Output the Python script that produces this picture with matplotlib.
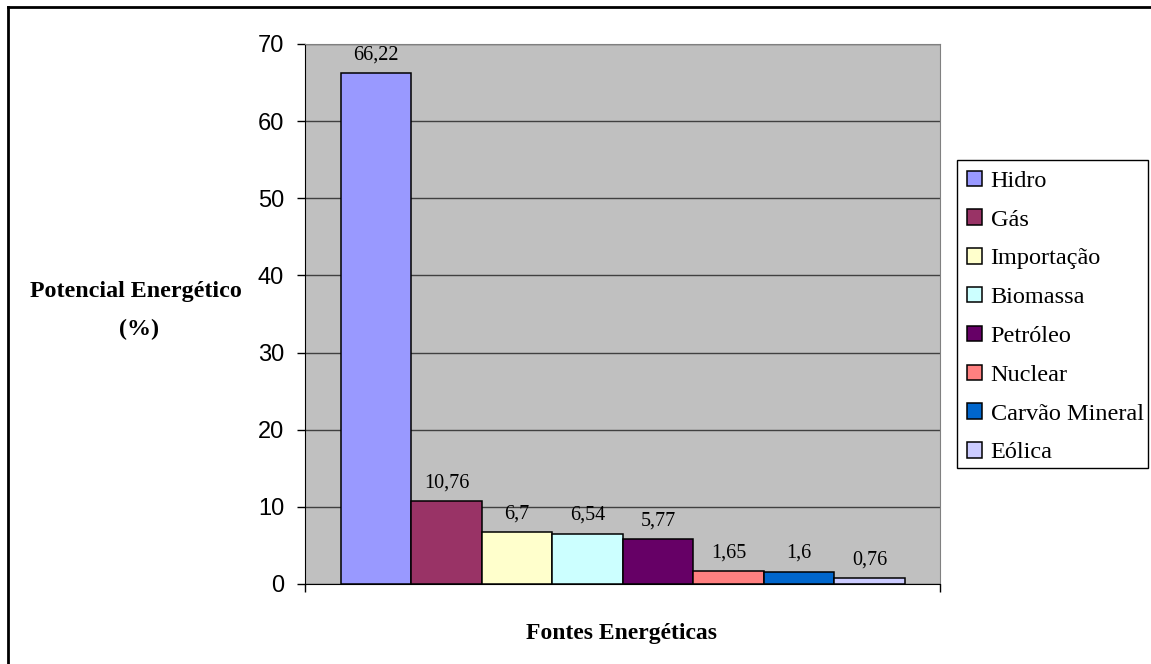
import matplotlib.pyplot as plt
import numpy as np
from matplotlib.lines import Line2D
from matplotlib.patches import Rectangle

fontes = ["Hidro", "Gás", "Importação", "Biomassa", "Petróleo", "Nuclear",
          "Carvão Mineral", "Eólica"]
potencial = [66.22, 10.76, 6.7, 6.54, 5.77, 1.65, 1.6, 0.76]
rotulos = ["66,22", "10,76", "6,7", "6,54", "5,77", "1,65", "1,6", "0,76"]
cores = ["#9999FF", "#993366", "#FFFFCC", "#CCFFFF", "#660066", "#FF8080",
         "#0066CC", "#CCCCFF"]

W, H = 1151, 664
fig = plt.figure(figsize=(W / 100, H / 100), dpi=100)
ax = fig.add_axes([305 / W, (H - 584) / H, (940 - 305) / W, (584 - 44) / H])
ax.set_facecolor("#C0C0C0")

# all bars sit in one category, side by side
largura = 0.111
inicio = -0.4433
for i, (nome, valor, rot, cor) in enumerate(zip(fontes, potencial, rotulos, cores)):
    x = inicio + largura * (i + 0.5)
    ax.bar(x, valor, width=largura, color=cor, edgecolor="black", linewidth=1.1,
           label=nome, zorder=3)
    ax.annotate(rot, (x, valor), xytext=(0, 10), textcoords="offset points",
                ha="center", va="baseline", fontsize=14.5, family="Liberation Serif")

ax.set_xlim(-0.5, 0.5)
ax.set_ylim(0, 70)
ax.set_yticks(np.arange(0, 71, 10))
ax.set_xticks([-0.5, 0.5])
ax.set_xticklabels(["", ""])
ax.yaxis.grid(True, color="#404040", linewidth=1, zorder=1)
ax.set_axisbelow(True)
ax.tick_params(axis="y", direction="out", length=6, width=1, pad=9,
               labelsize=17, labelfontfamily="Liberation Sans")
ax.tick_params(axis="x", direction="out", length=6, width=1)
for s in ["top", "right"]:
    ax.spines[s].set_color("#808080")
ax.spines["left"].set_color("black")
ax.spines["bottom"].set_color("black")

fig.text(136 / W, 1 - 292 / H, "Potencial Energético", ha="center", va="center",
         fontsize=17.3, fontweight="bold", family="Liberation Serif")
fig.text(139 / W, 1 - 329 / H, "(%)", ha="center", va="center",
         fontsize=17.3, fontweight="bold", family="Liberation Serif")
fig.text(622 / W, 1 - 633 / H, "Fontes Energéticas", ha="center", va="center",
         fontsize=17, fontweight="bold", family="Liberation Serif")

# legend entries without frame, box drawn separately (tight on the right like Excel)
leg = fig.legend(loc="center left", bbox_to_anchor=(967 / W, 1 - 317 / H),
                 prop={"family": "Liberation Serif", "size": 17.5},
                 handlelength=0.6, handleheight=0.6, handletextpad=0.37,
                 labelspacing=0.72, borderpad=0, borderaxespad=0,
                 frameon=False)
fig.add_artist(Rectangle((957 / W, 1 - 468 / H), (1148 - 957) / W, (468 - 160) / H,
                         transform=fig.transFigure, fill=False,
                         edgecolor="black", linewidth=1))

# outer frame of the chart (only left and top edges visible)
fig.add_artist(Line2D([8 / W, 8 / W], [0, 1 - 7 / H], color="black", linewidth=2))
fig.add_artist(Line2D([8 / W, 1], [1 - 7 / H, 1 - 7 / H], color="black", linewidth=2))

fig.savefig("out.png", dpi=100)
